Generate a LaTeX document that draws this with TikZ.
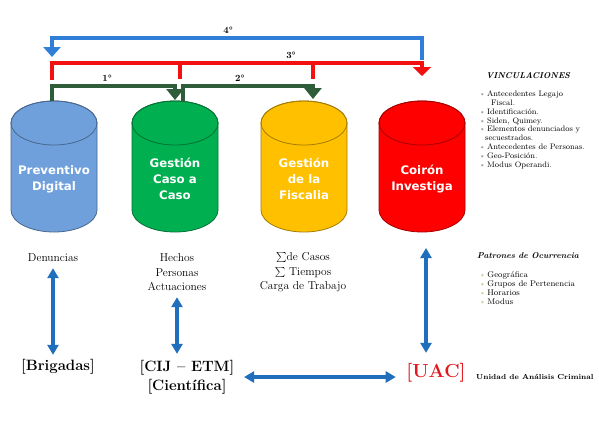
\documentclass[tikz,border=0pt]{standalone}
\usepackage{fontspec}
\usepackage{tikz}
\usetikzlibrary{arrows.meta}
\newfontfamily\cylfont{DejaVu Sans}
\definecolor{cylblue}{HTML}{6FA0DC}
\definecolor{cylgreen}{HTML}{00B050}
\definecolor{cylyellow}{HTML}{FFC000}
\definecolor{cylred}{HTML}{FF0000}
\definecolor{arrblue}{HTML}{2F7ED8}
\definecolor{arrred}{HTML}{F21010}
\definecolor{arrgreen}{HTML}{2F5D3A}
\definecolor{linkblue}{HTML}{1F6FBC}
\definecolor{uacred}{HTML}{E0191F}
\definecolor{bulgray}{HTML}{A6A6A6}
\definecolor{bulgreen}{HTML}{C3D69B}
\newcommand\vbul{\textcolor{bulgray}{\textbullet}\,}
\newcommand\pbul{\textcolor{bulgreen}{\textbullet}\,}

\begin{document}
\begin{tikzpicture}
[x=1bp,y=-1bp,
cyl/.style={line width=0.8bp},
cyltext/.style={text=white,align=center,inner sep=0pt,font=\cylfont\bfseries\fontsize{11.8}{16}\selectfont},
line4/.style={draw=arrblue,line width=3.6bp,-{Triangle[width=17bp,length=10bp]}},
line3/.style={draw=arrred,line width=3.6bp},
line12/.style={draw=arrgreen,line width=3.2bp,-{Triangle[width=17bp,length=11bp]}},
deg/.style={font=\bfseries\fontsize{9.5}{10}\selectfont,inner sep=0pt},
lbl/.style={inner sep=0pt,align=center,font=\fontsize{11.5}{14.5}\selectfont},
bigl/.style={inner sep=0pt,align=center,font=\bfseries\fontsize{15}{19}\selectfont},
dblarrow/.style={draw=linkblue,line width=3.3bp,{Triangle[width=11bp,length=10bp]}-{Triangle[width=11bp,length=10bp]}},
ttl/.style={inner sep=0pt,font=\bfseries\itshape\fontsize{8.5}{9}\selectfont},
items/.style={inner sep=0pt,align=left,anchor=north west,font=\fontsize{8}{8.8}\selectfont}]
\fill[white] (0,0) rectangle (599,425);
\useasboundingbox (0,0) rectangle (599,425);

\foreach \cx/\col in {54/cylblue,175/cylgreen,304/cylyellow,422/cylred}{
  \filldraw[cyl,draw=\col!65!black,fill=\col] (\cx-43,123) -- (\cx-43,210) arc (180:360:43bp and 22bp) -- (\cx+43,123) arc (0:180:43bp and 22bp) -- cycle;
  \draw[cyl,draw=\col!65!black] (\cx,123) ellipse (43bp and 22bp);
}

\node[cyltext] (prev) at (54,179) {Preventivo\\Digital};
\node[cyltext] (gcc) at (175,179) {Gestión\\Caso a\\Caso};
\node[cyltext] (gfis) at (304,179) {Gestión\\de la\\Fiscalia};
\node[cyltext] (coir) at (422,179) {Coirón\\Investiga};

\coordinate (a4) at (422,60);
\coordinate (b4) at (52,57);
\coordinate (a3) at (52,80);
\coordinate (b3) at (422,76);
\coordinate (s3a) at (180,79);
\coordinate (s3b) at (313,79);
\coordinate (a1) at (52,101);
\coordinate (b1) at (175,100);
\coordinate (a2) at (183,102);
\coordinate (b2) at (313,99);
\coordinate (cbot) at (426,232);

\draw[line4] (a4) -- ++(0,-22) -| node[pos=0.262,deg,above=3bp] {4°} (b4);
\draw[line3,-{Triangle[width=18bp,length=9bp]}] (a3) -- ++(0,-17) -| node[pos=0.323,deg,above=3bp] {3°} (b3);
\draw[line3] (s3a) -- ++(0,-16);
\draw[line3] (s3b) -- ++(0,-16);
\draw[line12] (a1) -- ++(0,-15) -| node[pos=0.224,deg,above=3bp] {1°} (b1);
\draw[line12] (a2) -- ++(0,-16) -| node[pos=0.219,deg,above=3bp] {2°} (b2);

\node[lbl] (denun) at (53,258) {Denuncias};
\node[lbl] (hech) at (177,272.5) {Hechos\\Personas\\Actuaciones};
\node[lbl] (casos) at (303,272.5) {$\sum$de Casos\\$\sum$ Tiempos\\Carga de Trabajo};
\node[bigl] (brig) at (58,367) {[Brigadas]};
\node[bigl] (cij) at (187,377.5) {[CIJ -- ETM]\\{}[Científica]};
\node[inner sep=0pt,text=uacred,font=\bfseries\fontsize{19}{20}\selectfont] (uac) at (436,373) {[UAC]};
\node[inner sep=0pt,anchor=west,font=\bfseries\fontsize{7.3}{8}\selectfont] (unid) at (476,377) {Unidad de Análisis Criminal};

\draw[dblarrow] ([yshift=-6bp]denun.south) -- ([yshift=4.5bp]denun.south |- brig.north);
\draw[dblarrow] ([yshift=-6bp]hech.south) -- ([yshift=6.5bp]hech.south |- cij.north);
\draw[dblarrow] ([yshift=-16bp]cbot) -- ([yshift=10.5bp]cbot |- uac.north);
\draw[dblarrow] ([xshift=9.5bp,yshift=-4bp]cij.east |- uac.west) -- ([xshift=-10.5bp,yshift=-4bp]uac.west);

\node[ttl] (vinc) at (528,76) {VINCULACIONES};
\node[items] (vitems) at (479,91) {\vbul Antecedentes Legajo\\
\hspace*{12bp}Fiscal.\\
\vbul Identificación.\\
\vbul Siden, Quimey.\\
\vbul Elementos denunciados y\\
\hspace*{6bp}secuestrados.\\
\vbul Antecedentes de Personas.\\
\vbul Geo-Posición.\\
\vbul Modus Operandi.};
\node[ttl] (patr) at (528,256) {Patrones de Ocurrencia};
\node[items,font=\fontsize{8.3}{9.3}\selectfont] (pitems) at (479,271) {\pbul Geográfica\\
\pbul Grupos de Pertenencia\\
\pbul Horarios\\
\pbul Modus};
\end{tikzpicture}
\end{document}
